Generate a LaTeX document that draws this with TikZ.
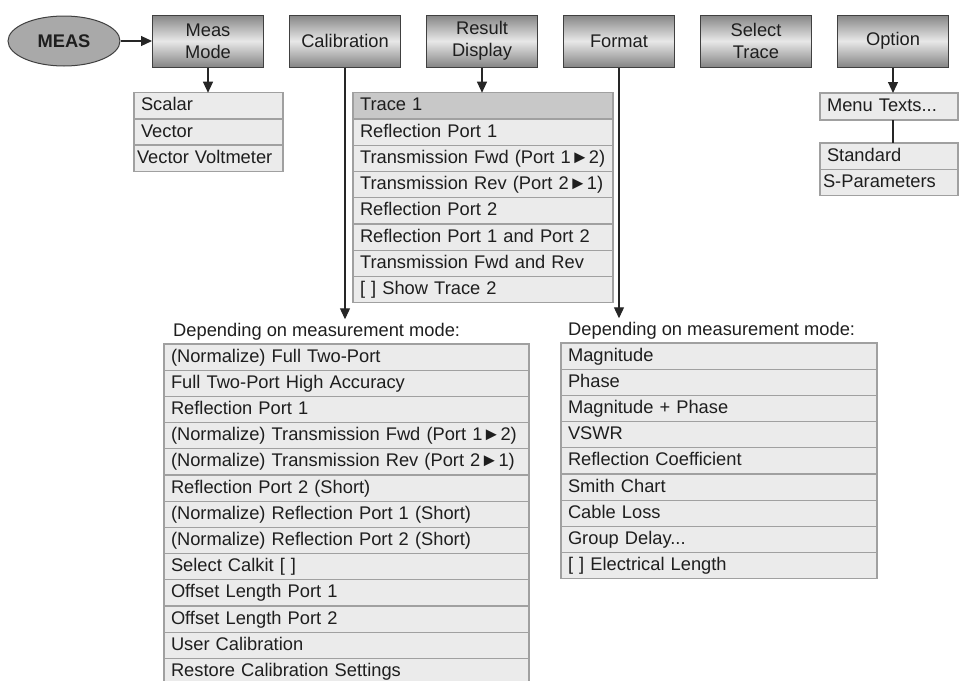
\documentclass[tikz,border=0pt]{standalone}
\usepackage{fontspec}
\setmainfont{Liberation Sans}
\usetikzlibrary{shapes.geometric,arrows.meta}
\definecolor{menudark}{HTML}{858585}
\definecolor{menulight}{HTML}{E8E8E8}
\definecolor{menuedge}{HTML}{404040}
\definecolor{keyfill}{HTML}{A9A9A9}
\definecolor{itemfill}{HTML}{EBEBEB}
\definecolor{itemhead}{HTML}{C8C8C8}
\definecolor{itemedge}{HTML}{A0A0A0}
\definecolor{inktext}{HTML}{1E1E1E}

\begin{document}
\begin{tikzpicture}[x=1pt,y=-1pt,
  every node/.style={text=inktext,font=\fontsize{18.3}{22}\selectfont},
  key/.style={ellipse,draw=menuedge,fill=keyfill,line width=1pt,
    minimum width=112pt,minimum height=50pt,
    font=\fontsize{18.3}{22}\selectfont\bfseries},
  menu/.style={rectangle,draw=menuedge,line width=1pt,
    top color=menudark,bottom color=menudark,middle color=menulight,
    minimum width=111pt,minimum height=52pt,align=center},
  item/.style={rectangle,draw=itemedge,fill=itemfill,line width=1.3pt,
    anchor=north west,minimum height=26.2pt,inner xsep=7pt,inner ysep=0pt,
    text height=14pt,text depth=4pt,outer sep=0pt,align=left},
  modeitem/.style={item,text width=135pt},
  traceitem/.style={item,text width=246pt},
  optitem/.style={item,text width=124pt},
  calitem/.style={item,text width=351pt},
  fmtitem/.style={item,text width=302pt},
  note/.style={anchor=west,inner xsep=0pt,inner ysep=4pt},
  link/.style={line width=1.2pt,draw=black!85},
  arr/.style={link,->,>={Triangle[length=11pt,width=10pt]}}]

  \useasboundingbox (0,0) rectangle (960,680);

  % top menu bar
  \node[key] (meas) at (64,41) {MEAS};
  \node[menu] (mode) at (208,41) {Meas\\Mode};
  \node[menu] (cal) at (345,41) {Calibration};
  \node[menu] (disp) at (482,41) {Result\\Display};
  \node[menu] (fmt) at (619,41) {Format};
  \node[menu] (sel) at (756,41) {Select\\Trace};
  \node[menu] (opt) at (893,41) {Option};

  % meas mode
  \node[modeitem] (scalar) at (134,92.7) {Scalar};
  \node[modeitem] (vector) at (134,118.9) {Vector};
  \node[modeitem,text width=143pt,inner xsep=3pt] (voltm) at (134,145.1) {Vector Voltmeter};

  % result display
  \node[traceitem,fill=itemhead] (trace1) at (353,92.7) {Trace 1};
  \node[traceitem] (refl1) at (353,118.95) {Reflection Port 1};
  \node[traceitem] (transfwd) at (353,145.2) {Transmission Fwd (Port 1►2)};
  \node[traceitem] (transrev) at (353,171.45) {Transmission Rev (Port 2►1)};
  \node[traceitem] (refl2) at (353,197.7) {Reflection Port 2};
  \node[traceitem] (reflboth) at (353,223.95) {Reflection Port 1 and Port 2};
  \node[traceitem] (transboth) at (353,250.2) {Transmission Fwd and Rev};
  \node[traceitem] (trace2) at (353,276.45) {[ ] Show Trace 2};

  % option
  \node[optitem,minimum height=27pt] (menutxt) at (820,93) {Menu Texts...};
  \node[optitem] (std) at (820,143) {Standard};
  \node[optitem,text width=132pt,inner xsep=3pt] (spar) at (820,169.2) {S-Parameters};

  % calibration
  \node[note] (callbl) at (173,332) {Depending on measurement mode:};
  \node[calitem] (calnorm) at (164,344) {(Normalize) Full Two-Port};
  \node[calitem] (calhigh) at (164,370.2) {Full Two-Port High Accuracy};
  \node[calitem] (calrefl1) at (164,396.4) {Reflection Port 1};
  \node[calitem] (caltfwd) at (164,422.6) {(Normalize) Transmission Fwd (Port 1►2)};
  \node[calitem] (caltrev) at (164,448.8) {(Normalize) Transmission Rev (Port 2►1)};
  \node[calitem] (calrefl2) at (164,475) {Reflection Port 2 (Short)};
  \node[calitem] (calnr1) at (164,501.2) {(Normalize) Reflection Port 1 (Short)};
  \node[calitem] (calnr2) at (164,527.4) {(Normalize) Reflection Port 2 (Short)};
  \node[calitem] (calkit) at (164,553.6) {Select Calkit [ ]};
  \node[calitem] (caloff1) at (164,579.8) {Offset Length Port 1};
  \node[calitem] (caloff2) at (164,606) {Offset Length Port 2};
  \node[calitem] (caluser) at (164,632.2) {User Calibration};
  \node[calitem] (calrest) at (164,658.4) {Restore Calibration Settings};

  % format
  \node[note] (fmtlbl) at (568,331) {Depending on measurement mode:};
  \node[fmtitem] (mag) at (561,343) {Magnitude};
  \node[fmtitem] (phase) at (561,369.2) {Phase};
  \node[fmtitem] (magph) at (561,395.4) {Magnitude + Phase};
  \node[fmtitem] (vswr) at (561,421.6) {VSWR};
  \node[fmtitem] (rcoef) at (561,447.8) {Reflection Coefficient};
  \node[fmtitem] (smith) at (561,474) {Smith Chart};
  \node[fmtitem] (cable) at (561,500.2) {Cable Loss};
  \node[fmtitem] (delay) at (561,526.4) {Group Delay...};
  \node[fmtitem] (elen) at (561,552.6) {[ ] Electrical Length};

  \draw[arr] (meas) -- (mode);
  \draw[arr] (mode.south) -- (mode.south |- scalar.north);
  \draw[arr] (cal.south) -- (cal.south |- callbl.north);
  \draw[arr] (disp.south) -- (disp.south |- trace1.north);
  \draw[arr] (fmt.south) -- (fmt.south |- fmtlbl.north);
  \draw[arr] (opt.south) -- (opt.south |- menutxt.north);
  \draw[link] (opt.south |- menutxt.south) -- (opt.south |- std.north);
\end{tikzpicture}
\end{document}
